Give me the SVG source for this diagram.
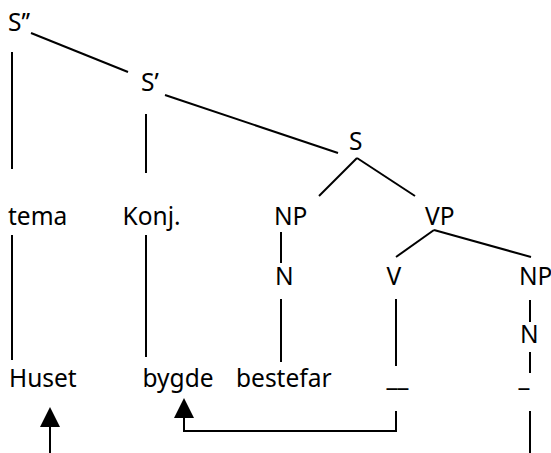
<svg xmlns="http://www.w3.org/2000/svg" width="551" height="453" viewBox="0 0 551 453">
  <style>
    .lbl { font-family: "Noto Sans", "DejaVu Sans", sans-serif; font-size: 24.5px; fill: #000; }
    .edge { stroke: #000; stroke-width: 2; fill: none; }
    .tip { fill: #000; stroke: none; }
  </style>
  <rect width="551" height="453" fill="#fff"/>

  <!-- tree edges and movement arrows -->
  <g id="connectors">
    <line class="edge" x1="31" y1="33" x2="128" y2="72"/>
    <line class="edge" x1="165" y1="95" x2="338" y2="153"/>
    <line class="edge" x1="12" y1="52" x2="12" y2="169"/>
    <line class="edge" x1="146" y1="114" x2="146" y2="173"/>
    <line class="edge" x1="357" y1="158" x2="319" y2="196"/>
    <line class="edge" x1="357" y1="158" x2="415" y2="196"/>
    <line class="edge" x1="12" y1="235" x2="12" y2="360"/>
    <line class="edge" x1="146" y1="235" x2="146" y2="357"/>
    <line class="edge" x1="281" y1="232" x2="281" y2="263"/>
    <line class="edge" x1="281" y1="299" x2="281" y2="362"/>
    <line class="edge" x1="434" y1="230" x2="396" y2="257"/>
    <line class="edge" x1="434" y1="230" x2="531" y2="257"/>
    <line class="edge" x1="396" y1="299" x2="396" y2="366"/>
    <line class="edge" x1="530" y1="300" x2="530" y2="322"/>
    <line class="edge" x1="530" y1="352" x2="530" y2="373"/>
    <line class="edge" x1="530" y1="411" x2="530" y2="453"/>
    <!-- V trace back to bygde -->
    <polyline class="edge" points="396,411 396,431 184,431 184,417"/>
    <polygon class="tip" points="184,398 174,418 194,418"/>
    <!-- arrow up to Huset -->
    <line class="edge" x1="50" y1="426" x2="50" y2="453"/>
    <polygon class="tip" points="50,407 40,427 60,427"/>
  </g>

  <g id="n-S2"><text class="lbl" x="8" y="31">S’’</text></g>
  <g id="n-S1"><text class="lbl" x="141" y="90.5">S’</text></g>
  <g id="n-S"><text class="lbl" x="349" y="150">S</text></g>
  <g id="n-tema"><text class="lbl" x="8" y="225">tema</text></g>
  <g id="n-konj"><text class="lbl" x="122.5" y="225">Konj.</text></g>
  <g id="n-NP1"><text class="lbl" x="274" y="225">NP</text></g>
  <g id="n-VP"><text class="lbl" x="425" y="225">VP</text></g>
  <g id="n-N1"><text class="lbl" x="275" y="285">N</text></g>
  <g id="n-V"><text class="lbl" x="386.5" y="285">V</text></g>
  <g id="n-NP2"><text class="lbl" x="519" y="285">NP</text></g>
  <g id="n-N2"><text class="lbl" x="520" y="343">N</text></g>
  <g id="n-huset"><text class="lbl" x="9" y="387">Huset</text></g>
  <g id="n-bygde"><text class="lbl" x="142.5" y="387">bygde</text></g>
  <g id="n-bestefar"><text class="lbl" x="236" y="387">bestefar</text></g>
  <g id="n-trace-V"><text class="lbl" x="386.5" y="386">__</text></g>
  <g id="n-trace-N"><text class="lbl" x="518.5" y="386">_</text></g>
</svg>
